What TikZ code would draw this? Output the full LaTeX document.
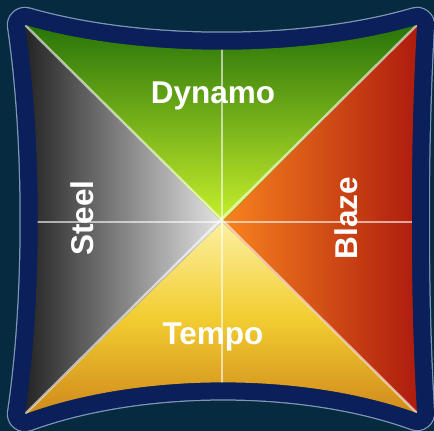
\documentclass[tikz,border=0pt]{standalone}
\usepackage{fontspec}
\setmainfont{Liberation Sans}
\usepackage{xcolor}
\definecolor{bgteal}{HTML}{062A40}
\definecolor{rimnavy}{HTML}{0B1F5A}
\definecolor{rimline}{HTML}{7E97B6}
\definecolor{dynamotop}{HTML}{287409}
\definecolor{dynamobot}{HTML}{C8F02C}
\definecolor{blazeout}{HTML}{AE1C0E}
\definecolor{blazein}{HTML}{F8841F}
\definecolor{tempoout}{HTML}{D08A1C}
\definecolor{tempomid}{HTML}{F2CD30}
\definecolor{tempoin}{HTML}{FCF0A0}
\definecolor{steelout}{HTML}{232423}
\definecolor{steelin}{HTML}{E4E4E4}
\usetikzlibrary{positioning}
\tikzset{
  quad/.style   ={font=\bfseries\fontsize{31.5}{32}\selectfont, text=white,
                  inner sep=0pt, anchor=base},
  divider/.style={draw=white, draw opacity=0.6, line width=2.4pt},
  rim/.style    ={line width=34pt, line join=round, draw=rimnavy},
  rimedge/.style={line width=36.5pt, line join=round, draw=rimline},
}
\newcommand{\padshape}{(tl) .. controls (140,58) and (304,58) .. (tr)
  .. controls (410,140) and (410,300) .. (br)
  .. controls (304,372) and (140,372) .. (bl)
  .. controls (42,300) and (42,140) .. cycle}

\begin{document}
\begin{tikzpicture}[x=1pt,y=-1pt]
  \fill[bgteal] (0,0) rectangle (434,431);
  \useasboundingbox (0,0) rectangle (434,431);
  % corners, edge midpoints, centre
  \coordinate (tl) at (25,25);
  \coordinate (tr) at (417,25);
  \coordinate (br) at (417,413);
  \coordinate (bl) at (25,414);
  \coordinate (c)  at (222,222);
  \coordinate (tm) at (222,48);
  \coordinate (bm) at (222,384);
  \coordinate (lm) at (37,222);
  \coordinate (rm) at (413,222);
  % rim
  \draw[rimedge] \padshape;
  \draw[rim] \padshape;
  % four quadrants
  \begin{scope}
    \clip \padshape;
    \shade[top color=dynamotop, bottom color=dynamobot] (tl) -- (tr) -- (c) -- cycle;
    \shade[left color=blazein, right color=blazeout] (tr) -- (br) -- (c) -- cycle;
    \shade[top color=tempoin, bottom color=tempoout, middle color=tempomid] (bl) -- (br) -- (c) -- cycle;
    \shade[left color=steelout, right color=steelin] (tl) -- (bl) -- (c) -- cycle;
    \draw[divider] (tl) -- (br);
    \draw[divider] (tr) -- (bl);
    \draw[divider] (tm) -- (bm);
    \draw[divider] (lm) -- (rm);
  \end{scope}
  \node[quad] (dynamo) at (213,103) {Dynamo};
  \node[quad] (tempo)  at (213,344) {Tempo};
  \node[quad, rotate=90] (steel) at (93,218) {Steel};
  \node[quad, rotate=90] (blaze) at (357,218) {Blaze};
\end{tikzpicture}
\end{document}
